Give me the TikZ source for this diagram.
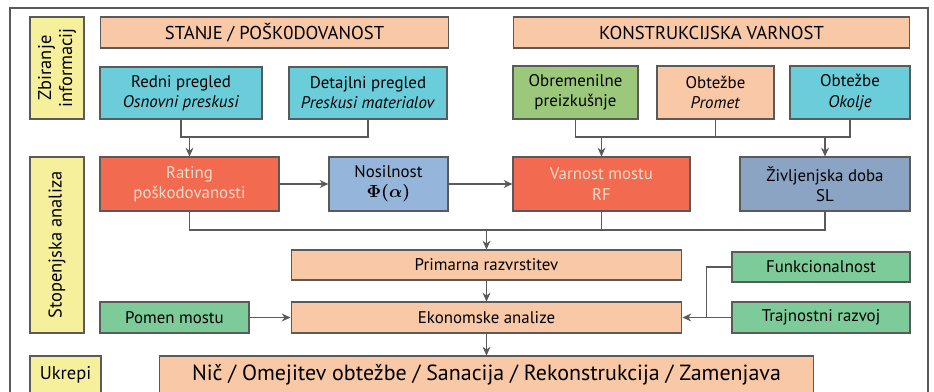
\documentclass[tikz,border=0pt]{standalone}
\usepackage{fontspec}
\usepackage{amsmath}
\setmainfont{PT Sans}
\usetikzlibrary{arrows.meta}
\usetikzlibrary{positioning}

\definecolor{peach}{HTML}{F9C8A6}
\definecolor{cyanbox}{HTML}{6ACDD9}
\definecolor{olivegreen}{HTML}{9CC87C}
\definecolor{mint}{HTML}{7DCB98}
\definecolor{redbox}{HTML}{F26A4F}
\definecolor{bluebox}{HTML}{95B5DB}
\definecolor{greybox}{HTML}{8BA4C4}
\definecolor{yellowbox}{HTML}{F6EF9B}
\definecolor{edge}{HTML}{5A5A5A}

\tikzset{
  box/.style={draw=edge, line width=0.6pt, inner sep=0pt, align=center,
    font=\fontsize{9.6}{11.5}\selectfont},
  head/.style={box, fill=peach, font=\fontsize{10.6}{12}\selectfont},
  lab/.style={box, fill=yellowbox, rotate=90, font=\fontsize{10.5}{12}\selectfont},
  conn/.style={draw=edge, line width=0.6pt},
  arr/.style={conn, -{Stealth[length=5pt,width=4.5pt]}}
}

\begin{document}
\begin{tikzpicture}[x=0.02cm, y=-0.02cm]
\useasboundingbox (0,0) rectangle (934,392);
\draw[edge, line width=0.7pt] (10,8) rectangle (928,410);

% stage labels
\node[lab, minimum width=2.04cm, minimum height=1.08cm] (zbir) at (57,68) {Zbiranje\\informacij};
\node[lab, minimum width=3.52cm, minimum height=1.08cm] (stop) at (57,245) {Stopenjska analiza};
\node[box, fill=yellowbox, font=\fontsize{10.5}{12}\selectfont, minimum width=1.42cm, minimum height=0.76cm] (ukr) at (65.5,375) {Ukrepi};

% information
\node[head, minimum width=6.98cm, minimum height=0.62cm] (stanje) at (274.5,32.5) {STANJE / POŠK0DOVANOST};
\node[head, minimum width=7.94cm, minimum height=0.62cm] (konstr) at (711.5,32.5) {KONSTRUKCIJSKA VARNOST};
\node[box, fill=cyanbox, minimum width=3.24cm, minimum height=1.04cm] (redni) at (181,93) {Redni pregled\\\textit{Osnovni preskusi}};
\node[box, fill=cyanbox, minimum width=3.16cm, minimum height=1.04cm] (detajl) at (368,93) {Detajlni pregled\\\textit{Preskusi materialov}};
\node[box, fill=olivegreen, minimum width=2.5cm, minimum height=1.06cm] (obrem) at (575.5,92.5) {Obremenilne\\preizkušnje};
\node[box, fill=peach, minimum width=2.34cm, minimum height=1.06cm] (promet) at (715.5,92.5) {Obtežbe\\\textit{Promet}};
\node[box, fill=cyanbox, minimum width=2.4cm, minimum height=1.06cm] (okolje) at (850,92.5) {Obtežbe\\\textit{Okolje}};

% analysis
\node[box, fill=redbox, text=peach!60, minimum width=3.58cm, minimum height=1.08cm] (rating) at (189.5,184) {Rating\\poškodovanosti};
\node[box, fill=bluebox, minimum width=2.38cm, minimum height=1.08cm] (nosil) at (388.5,184) {Nosilnost\\$\boldsymbol{\Phi(\alpha)}$};
\node[box, fill=redbox, text=peach!60, minimum width=3.54cm, minimum height=1.08cm] (varn) at (601.5,184) {Varnost mostu\\RF};
\node[box, fill=greybox, minimum width=3.4cm, minimum height=1.08cm] (zivlj) at (825,184) {Življenjska doba\\SL};
\node[box, fill=peach, minimum width=7.82cm, minimum height=0.6cm] (prim) at (486.5,265) {Primarna razvrstitev};
\node[box, fill=peach, minimum width=7.82cm, minimum height=0.62cm] (ekon) at (486.5,317.5) {Ekonomske analize};
\node[box, fill=mint, minimum width=2.98cm, minimum height=0.62cm] (pomen) at (174.5,317.5) {Pomen mostu};
\node[box, fill=mint, minimum width=3.56cm, minimum height=0.6cm] (funk) at (821,267) {Funkcionalnost};
\node[box, fill=mint, minimum width=3.56cm, minimum height=0.62cm] (trajn) at (821,317.5) {Trajnostni razvoj};

% measures
\node[box, fill=peach, font=\fontsize{12.5}{14}\selectfont, minimum width=13.1cm, minimum height=0.76cm] (ukrep) at (486.5,375) {Nič / Omejitev obtežbe / Sanacija / Rekonstrukcija / Zamenjava};

% connectors
\coordinate (bus1) at (0,137);
\coordinate (bus2) at (0,230);
\draw[conn] (redni.south) |- (detajl.south |- bus1) -- (detajl.south);
\draw[arr] (rating.north |- bus1) -- (rating.north);
\draw[conn] (obrem.south) |- (okolje.south |- bus1) -- (okolje.south);
\draw[conn] (promet.south) -- (promet.south |- bus1);
\draw[arr] (varn.north |- bus1) -- (varn.north);
\draw[arr] (zivlj.north |- bus1) -- (zivlj.north);
\draw[arr] (rating) -- (nosil);
\draw[arr] (nosil) -- (varn);
\draw[conn] (rating.south) |- (zivlj.south |- bus2) -- (zivlj.south);
\draw[conn] (varn.south) -- (varn.south |- bus2);
\draw[arr] (prim.north |- bus2) -- (prim.north);
\draw[arr] (prim) -- (ekon);
\draw[arr] (pomen) -- (ekon);
\draw[arr] (trajn) -- (ekon);
\draw[conn] (funk.west) -- ++(-25,0) coordinate (fk) -- (fk |- trajn.west);
\draw[arr] (ekon) -- (ukrep);
\end{tikzpicture}
\end{document}
